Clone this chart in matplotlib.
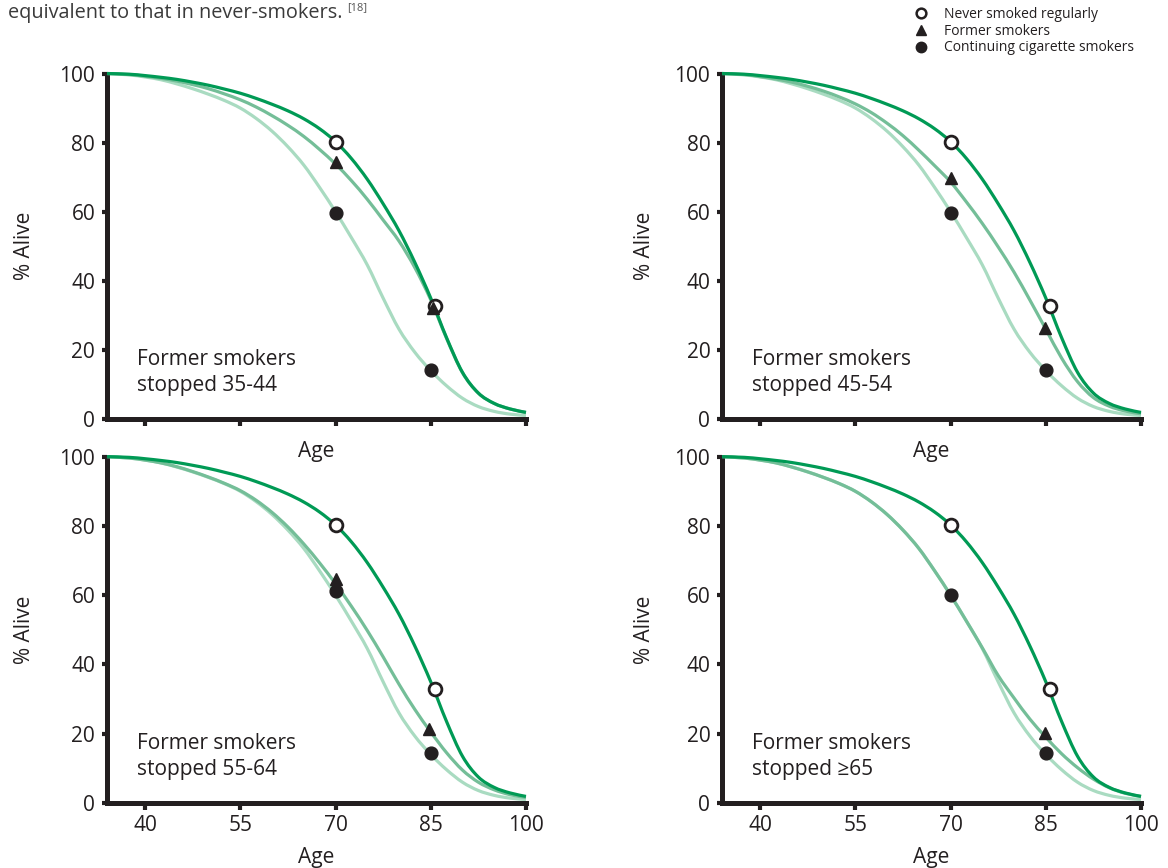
# -*- coding: UTF-8 -*-
import matplotlib.pyplot as plt
from matplotlib.lines import Line2D
from matplotlib.path import Path
from matplotlib.patches import PathPatch

plt.rcParams['font.family'] = ['Open Sans', 'DejaVu Sans']

################################################################################
# 读图得到的数据
################################################################################

age = [34, 37.5, 40, 42.5, 45, 47.5, 50, 52.5, 55, 57.5, 60, 62.5, 65, 67.5,
       70, 72.5, 75, 77.5, 80, 82.5, 85, 87.5, 90, 92.5, 95, 97.5, 100]

never_curve = [100, 99.8, 99.4, 98.9, 98.3, 97.5, 96.6, 95.5, 94.3, 92.8, 91.1, 89.2, 86.9, 84.0,
               80.3, 75.4, 69.4, 62.3, 54.5, 45.3, 35.0, 23.5, 13.5, 7.5, 4.5, 2.9, 1.9]
continuing_curve = [100, 99.6, 99.0, 98.2, 97.0, 95.6, 94.0, 92.2, 90.0, 87.0, 83.3, 78.8, 73.5, 67.0,
                    60.0, 52.5, 44.6, 35.0, 26.0, 19.3, 14.0, 9.6, 6.0, 3.6, 2.2, 1.4, 1.0]
former_35_44 = [100, 99.7, 99.2, 98.6, 97.8, 96.8, 95.6, 94.1, 92.4, 90.3, 87.8, 85.0, 81.8, 78.0,
                73.8, 69.0, 63.6, 57.6, 51.5, 43.8, 34.5, 23.3, 13.4, 7.5, 4.5, 2.9, 1.9]
former_45_54 = [100, 99.7, 99.1, 98.4, 97.5, 96.3, 94.9, 93.2, 91.2, 88.7, 85.6, 82.0, 77.8, 73.3,
                68.6, 62.8, 56.6, 49.8, 42.5, 34.4, 26.0, 17.6, 10.8, 6.2, 3.7, 2.3, 1.5]
former_55_64 = [100, 99.6, 99.0, 98.2, 97.1, 95.7, 94.1, 92.3, 90.2, 87.4, 83.9, 79.7, 74.8, 69.3,
                63.3, 56.8, 49.8, 42.2, 34.3, 27.0, 20.5, 14.5, 9.5, 6.0, 3.8, 2.4, 1.6]
former_65 = [100, 99.6, 99.0, 98.2, 97.0, 95.6, 94.0, 92.2, 90.0, 87.0, 83.3, 78.8, 73.5, 67.0,
             60.0, 52.5, 44.8, 36.8, 30.3, 24.2, 19.0, 14.2, 10.2, 6.9, 4.4, 2.8, 1.9]
former_curves = [former_35_44, former_45_54, former_55_64, former_65]

# 标记点
never_age = [70, 85.6]
never_pts = [[80.3, 32.8], [80.3, 32.8], [80.4, 33.0], [80.4, 33.0]]
former_age = [[70, 85.4], [70, 84.8], [70, 84.8], [84.8]]
former_pts = [[74.5, 32.2], [69.7, 26.4], [64.6, 21.5], [20.3]]
cont_age = [70, 85]
cont_pts = [[59.7, 14.1], [59.7, 14.3], [61.2, 14.5], [60.0, 14.5]]

panel_text = ['Former smokers\nstopped 35-44', 'Former smokers\nstopped 45-54',
              'Former smokers\nstopped 55-64', 'Former smokers\nstopped \u226565']

x_ticks = [40, 55, 70, 85, 100]
y_ticks = [0, 20, 40, 60, 80, 100]

legend_labels = ['Never smoked regularly', 'Former smokers', 'Continuing cigarette smokers']

c_dark = '#009a55'
c_mid = '#74be98'
c_light = '#a9dbc1'
c_ink = '#231f20'


def smooth_line(axe, x, y, color, z):
    # Catmull-Rom 样条 -> 三次贝塞尔, 只用读出的点作为锚点
    n = len(x)
    verts = [(x[0], y[0])]
    codes = [Path.MOVETO]
    for k in range(n - 1):
        k0 = max(k - 1, 0)
        k3 = min(k + 2, n - 1)
        c1 = (x[k] + (x[k + 1] - x[k0]) / 6.0, y[k] + (y[k + 1] - y[k0]) / 6.0)
        c2 = (x[k + 1] - (x[k3] - x[k]) / 6.0, y[k + 1] - (y[k3] - y[k]) / 6.0)
        verts += [c1, c2, (x[k + 1], y[k + 1])]
        codes += [Path.CURVE4, Path.CURVE4, Path.CURVE4]
    patch = PathPatch(Path(verts, codes), facecolor='none', edgecolor=color,
                      lw=2.3, clip_on=False, zorder=z, capstyle='butt')
    axe.add_patch(patch)


################################################################################
# 绘图
################################################################################

fig = plt.figure(figsize=(11.68, 8.68), dpi=100)

ax_rect = [[0.0916, 0.5173, 0.3587, 0.3980],
           [0.6182, 0.5173, 0.3587, 0.3980],
           [0.0916, 0.0749, 0.3587, 0.3990],
           [0.6182, 0.0749, 0.3587, 0.3990]]

for i in range(4):
    axe = fig.add_axes(ax_rect[i])
    axe.patch.set_visible(False)
    smooth_line(axe, age, continuing_curve, c_light, 2)
    smooth_line(axe, age, former_curves[i], c_mid, 3)
    smooth_line(axe, age, never_curve, c_dark, 4)

    axe.plot(never_age, never_pts[i], 'o', ms=9.2, mfc='white', mec=c_ink, mew=2.0, zorder=5)
    axe.plot(former_age[i], former_pts[i], '^', ms=8.5, color=c_ink, zorder=6)
    axe.plot(cont_age, cont_pts[i], 'o', ms=9.2, color=c_ink, zorder=7)

    axe.text(38.7, 13.4, panel_text[i], fontsize=15, color=c_ink,
             va='center', ha='left', linespacing=1.35)

    axe.set_xlim(34, 100)
    axe.set_ylim(0, 100)
    axe.set_xticks(x_ticks)
    axe.set_yticks(y_ticks)
    for s in ['top', 'right']:
        axe.spines[s].set_visible(False)
    for s in ['left', 'bottom']:
        axe.spines[s].set_linewidth(3.6)
        axe.spines[s].set_color(c_ink)
    axe.tick_params(axis='x', direction='out', length=5, width=3, color=c_ink,
                    labelsize=15, labelcolor=c_ink, pad=4)
    axe.tick_params(axis='y', direction='out', length=3.5, width=3, color=c_ink,
                    labelsize=15, labelcolor=c_ink, pad=5)

    axe.set_xlabel('Age', fontsize=15, color=c_ink)
    axe.xaxis.label.set_verticalalignment('center')
    axe.set_ylabel('% Alive', fontsize=15, color=c_ink)
    axe.yaxis.label.set_verticalalignment('center')
    if i < 2:
        axe.tick_params(axis='x', labelbottom=False)
        axe.xaxis.set_label_coords(0.5, -0.093)
    else:
        axe.xaxis.set_label_coords(0.5, -0.156)
    if i % 2 == 0:
        axe.yaxis.set_label_coords(-0.196, 0.5)
    else:
        axe.yaxis.set_label_coords(-0.186, 0.5)

# 图例
handles = [Line2D([], [], ls='none', marker='o', ms=7, mfc='white', mec=c_ink, mew=1.8),
           Line2D([], [], ls='none', marker='^', ms=7, color=c_ink),
           Line2D([], [], ls='none', marker='o', ms=7.5, color=c_ink)]
fig.legend(handles, legend_labels, loc='upper left', bbox_to_anchor=(0.7745, 1.003),
           frameon=False, fontsize=10, handlelength=1.0, handletextpad=1.1,
           labelspacing=0.12, borderpad=0.2, labelcolor=c_ink)

# 顶部残留正文
t = fig.text(8 / 1168, 1 - 18 / 868, 'equivalent to that in never-smokers.', fontsize=14.3,
             color='#3a3a3a', va='baseline', ha='left')
plt.annotate('[18]', xy=(1, 0.62), xycoords=t, xytext=(3, 0), textcoords='offset points',
             fontsize=8, color='#555555', va='baseline', ha='left', annotation_clip=False)

fig.savefig('out.png', dpi=100)
plt.close()
